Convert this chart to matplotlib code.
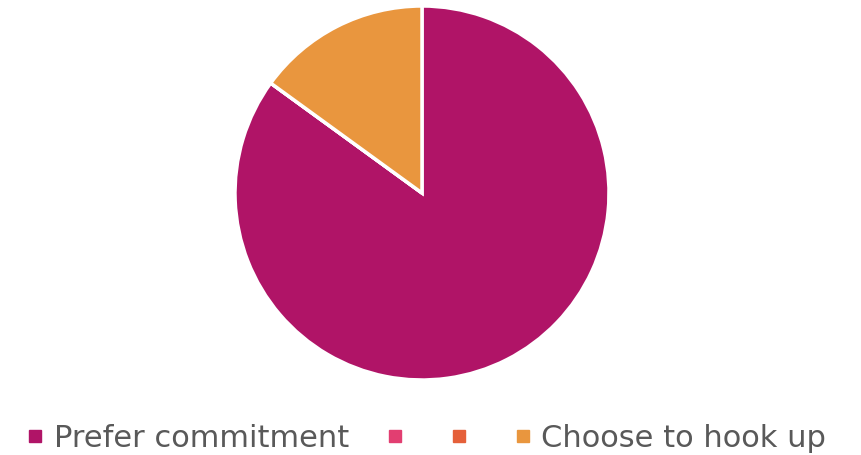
import matplotlib.pyplot as plt
from matplotlib.lines import Line2D

labels = ["Prefer commitment", "", "", "Choose to hook up"]
values = [85, 0, 0, 15]
colors = ["#B01467", "#E23E71", "#E5603A", "#E9963E"]

fig = plt.figure(figsize=(8.61, 4.55), dpi=100)

# pie centre ~ (422, 193) px, radius ~187 px
cx, cy, r = 422, 193, 187
ax = fig.add_axes([(cx - r) / 861, (455 - cy - r) / 455, 2 * r / 861, 2 * r / 455])
ax.pie(values, colors=colors, startangle=90, counterclock=False,
       wedgeprops=dict(edgecolor="white", linewidth=2.5), radius=1)
ax.set_xlim(-1, 1)
ax.set_ylim(-1, 1)
ax.set_aspect("auto")
ax.axis("off")

handles = [Line2D([], [], marker="s", linestyle="", markersize=9,
                  markerfacecolor=c, markeredgecolor=c) for c in colors]
fig.legend(handles, labels, loc="center", bbox_to_anchor=(0.495, 0.036), ncol=4,
           frameon=False, handlelength=0.6, handletextpad=0.3,
           columnspacing=1.2, labelcolor="#595959",
           prop={"family": "DejaVu Sans", "size": 22})

fig.savefig("out.png", dpi=100)
